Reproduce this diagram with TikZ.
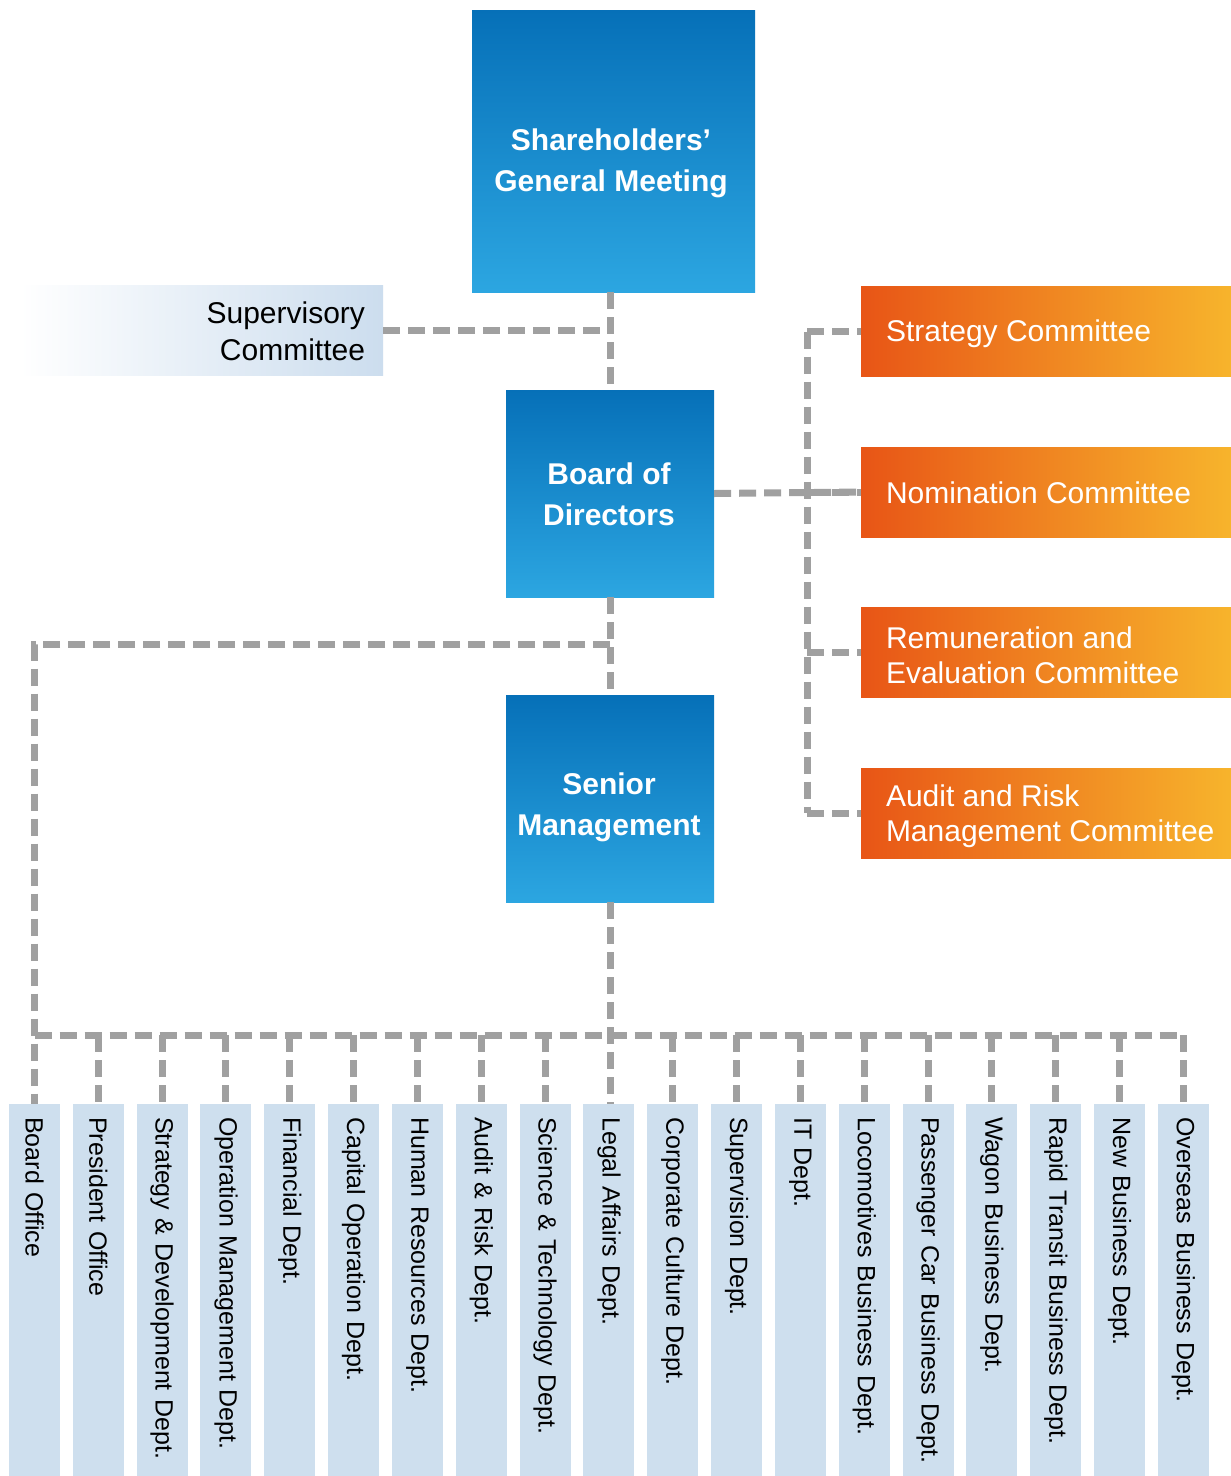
\documentclass[tikz,border=0pt]{standalone}
\usepackage{fontspec}
\setmainfont{Liberation Sans}
\usetikzlibrary{calc}
\definecolor{blueTop}{RGB}{6,112,184}
\definecolor{blueBot}{RGB}{44,166,225}
\definecolor{orL}{RGB}{232,85,22}
\definecolor{orR}{RGB}{247,180,44}
\definecolor{deptfill}{RGB}{206,223,238}
\definecolor{supR}{RGB}{204,221,238}
\definecolor{linegray}{RGB}{160,160,160}

\begin{document}
\begin{tikzpicture}[x=1pt,y=-1pt,
  bluebox/.style={rectangle, inner sep=0pt, top color=blueTop, bottom color=blueBot},
  btext/.style={text=white, align=center, inner sep=0pt,
    font=\fontsize{30}{41}\selectfont\bfseries},
  obox/.style={rectangle, inner sep=0pt, minimum width=370pt, minimum height=90pt,
    left color=orL, right color=orR},
  otext/.style={text=white, align=left, inner sep=0pt, anchor=west,
    font=\fontsize{30}{35}\selectfont},
  supbox/.style={rectangle, inner sep=0pt, minimum width=363pt, minimum height=90pt,
    left color=white, right color=supR},
  stext/.style={text=black, align=right, inner sep=0pt, anchor=east,
    font=\fontsize{30}{37}\selectfont},
  dept/.style={rectangle, rotate=-90, anchor=west, fill=deptfill,
    minimum width=372pt, minimum height=51pt, text width=346pt,
    inner xsep=13pt, inner ysep=0pt, align=left,
    font=\fontsize{25}{30}\selectfont},
  link/.style={draw=linegray, line width=7pt, dash pattern=on 17pt off 8pt}
]
\fill[white] (0,0) rectangle (1231,1476);
\useasboundingbox (0,0) rectangle (1231,1476);

% governance boxes
\node[bluebox, minimum width=283pt, minimum height=282pt] (sgm) at (613.5,151) {};
\node[btext] (sgm-t) at (611,163) {Shareholders’\\General Meeting};
\node[bluebox, minimum width=208pt, minimum height=207pt] (bod) at (610,493.5) {};
\node[btext] (bod-t) at (609,494) {Board of\\Directors};
\node[bluebox, minimum width=208pt, minimum height=207pt] (sm) at (610,798.5) {};
\node[btext] (sm-t) at (609,807) {Senior\\Management};

% supervisory committee
\node[supbox] (sup) at (201.5,330) {};
\node[stext] (sup-t) at ([xshift=-18pt,yshift=-1pt]sup.east) {Supervisory\\Committee};

% board committees
\node[obox] (strat) at (1046,331.5) {};
\node[otext] (strat-t) at ([xshift=25pt,yshift=-2pt]strat.west) {Strategy Committee};
\node[obox] (nom) at (1046,492) {};
\node[otext] (nom-t) at ([xshift=25pt,yshift=-1pt]nom.west) {Nomination Committee};
\node[obox] (rem) at (1046,652.5) {};
\node[otext] (rem-t) at ([xshift=25pt,yshift=-3pt]rem.west) {Remuneration and\\Evaluation Committee};
\node[obox] (audit) at (1046,813) {};
\node[otext] (audit-t) at ([xshift=25pt,yshift=-3pt]audit.west) {Audit and Risk\\Management Committee};

% departments
\foreach \t [count=\i] in {Board Office, President Office, Strategy \& Development Dept.,
  Operation Management Dept., Financial Dept., Capital Operation Dept.,
  Human Resources Dept., Audit \& Risk Dept., Science \& Technology Dept.,
  Legal Affairs Dept., Corporate Culture Dept., Supervision Dept., IT Dept.,
  Locomotives Business Dept., Passenger Car Business Dept., Wagon Business Dept.,
  Rapid Transit Business Dept., New Business Dept., Overseas Business Dept.}
  \node[dept] (d\i) at ({34.5+63.83*(\i-1)},1104) {\t};

% helper coordinates for the buses
\coordinate (busy) at (0,1035);
\coordinate (cbus) at (807,0);
\coordinate (lk) at (610,644);

% connectors
\draw[link] (bod.north |- sgm.south) -- (bod.north);
\draw[link] (sup.east) -- (sup.east -| bod.north);
\draw[link] (bod.south) -- (sm.north);
\draw[link] (bod.east) -- (nom.west);
\draw[link] (cbus |- strat.west) -- (cbus |- audit.west);
\foreach \c in {strat,nom,rem,audit}
  \draw[link] (cbus |- \c.west) -- (\c.west);
\draw[link] (lk) -| (d1.west);
\draw[link] (sm.south) -- (sm.south |- d10.west);
\draw[link] (d1.west |- busy) -- (d19.west |- busy);
\foreach \i in {2,...,9,11,12,...,19}
  \draw[link] (d\i.west |- busy) -- (d\i.west);
\end{tikzpicture}
\end{document}
